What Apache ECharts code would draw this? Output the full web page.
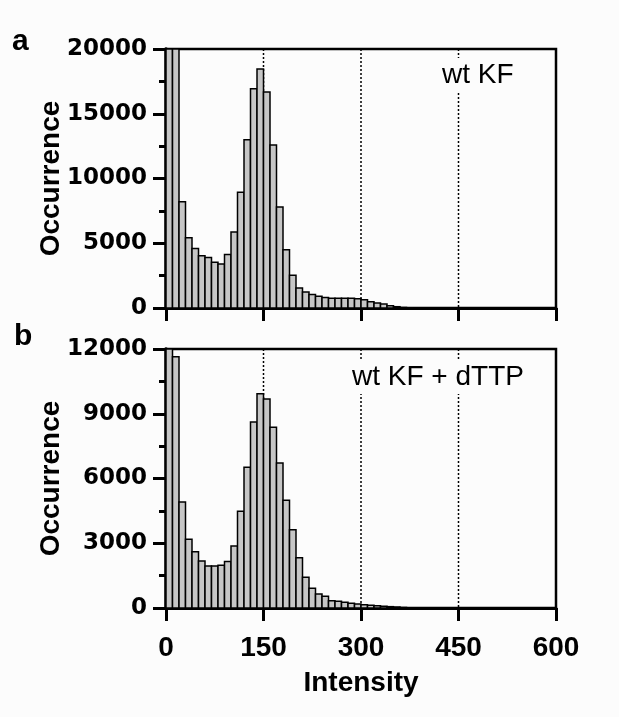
<!DOCTYPE html>
<html>
<head>
<meta charset="utf-8">
<script src="https://cdn.jsdelivr.net/npm/echarts@6/dist/echarts.min.js"></script>
<style>
html,body{margin:0;padding:0;background:#fcfcfc;}
#c{width:619px;height:717px;}
</style>
</head>
<body>
<div id="c"></div>
<script>
// ---- data ----
const binStarts = [0,10,20,30,40,50,60,70,80,90,100,110,120,130,140,150,160,170,180,190,200,210,220,230,240,250,260,270,280,290,300,310,320,330,340,350,360,370];
const binWidth = 10;
const wtKF = [26000,22000,8200,5430,4600,4040,3890,3530,3400,4140,5870,8930,13000,16940,18460,16680,12590,7800,4500,2520,1540,1240,1040,900,810,760,760,760,760,720,640,490,380,300,180,100,40,15];
const wtKFdTTP = [13500,11640,4910,3180,2610,2180,1950,1950,1980,2160,2870,4480,6520,8620,9930,9680,8380,6720,4990,3630,2330,1420,920,650,540,340,310,262,216,185,154,123,108,77,62,46,25,12];
const refLines = [150, 300, 450];
const xTicks = [0, 150, 300, 450, 600];
const yTopTicks = [0, 5000, 10000, 15000, 20000];
const yBotTicks = [0, 3000, 6000, 9000, 12000];
const panelLabels = ['a', 'b'];
const seriesNames = ['wt KF', 'wt KF + dTTP'];
const xTitle = 'Intensity';
const yTitle = 'Occurrence';

// ---- style ----
const BG = '#fcfcfc';
const BAR_FILL = '#c6c6c6';
const ARIAL = '"Liberation Sans", Arial, sans-serif';
const DEJA = '"DejaVu Sans", sans-serif';

function toBins(vals) {
  return vals.map((v, i) => [binStarts[i], binStarts[i] + binWidth, v]);
}

function barItem(params, api) {
  const cs = params.coordSys;
  const p0 = api.coord([api.value(0), api.value(2)]);
  const p1 = api.coord([api.value(1), 0]);
  const top = Math.max(p0[1], cs.y);
  return {
    type: 'rect',
    shape: { x: p0[0], y: top, width: p1[0] - p0[0], height: p1[1] - top },
    style: { fill: BAR_FILL, stroke: '#000', lineWidth: 1.5 }
  };
}

function refItem(params, api) {
  const cs = params.coordSys;
  const x = api.coord([api.value(0), 0])[0];
  return {
    type: 'line',
    shape: { x1: x, y1: cs.y, x2: x, y2: cs.y + cs.height },
    style: { stroke: '#000', lineWidth: 1.5, lineDash: [2, 2] }
  };
}

function xAxisCfg(idx, showLabels) {
  return {
    type: 'value', gridIndex: idx, min: xTicks[0], max: xTicks[xTicks.length - 1],
    interval: xTicks[1] - xTicks[0],
    axisLine: { show: true, onZero: false, lineStyle: { color: '#000', width: 3 } },
    axisTick: { show: true, inside: false, length: 13, lineStyle: { color: '#000', width: 3 } },
    splitLine: { show: false },
    axisLabel: {
      show: showLabels, margin: 26, color: '#000', fontFamily: ARIAL, fontWeight: 'bold',
      fontSize: 28, lineHeight: 28, showMinLabel: true, showMaxLabel: true, hideOverlap: false,
      formatter: v => String(v)
    },
    name: showLabels ? xTitle : '',
    nameLocation: 'middle', nameGap: 61, nameMoveOverlap: false,
    nameTextStyle: { color: '#000', fontFamily: ARIAL, fontWeight: 'bold', fontSize: 28, lineHeight: 28 }
  };
}

function yAxisCfg(idx, ticks) {
  return {
    type: 'value', gridIndex: idx, min: ticks[0], max: ticks[ticks.length - 1],
    interval: ticks[1] - ticks[0],
    axisLine: { show: true, onZero: false, lineStyle: { color: '#000', width: 3.5 } },
    axisTick: { show: true, inside: false, length: 13, lineStyle: { color: '#000', width: 3 } },
    minorTick: { show: true, splitNumber: 2, length: 7, lineStyle: { color: '#000', width: 3 } },
    splitLine: { show: false },
    minorSplitLine: { show: false },
    axisLabel: {
      margin: 19, color: '#000', fontFamily: DEJA, fontWeight: 'bold', fontSize: 23,
      showMinLabel: true, showMaxLabel: true, formatter: v => String(v)
    },
    name: yTitle, nameLocation: 'middle', nameGap: 101, nameRotate: 90, nameMoveOverlap: false,
    nameTextStyle: { color: '#000', fontFamily: ARIAL, fontWeight: 'bold', fontSize: 28, lineHeight: 28 }
  };
}

const chart = echarts.init(document.getElementById('c'), null, { renderer: 'canvas' });
chart.setOption({
  backgroundColor: BG,
  animation: false,
  grid: [
    { left: 166, right: 63, top: 49, height: 259, show: true, borderColor: '#000', borderWidth: 2.5, backgroundColor: BG, containLabel: false, outerBoundsMode: 'none' },
    { left: 166, right: 63, top: 349, height: 259, show: true, borderColor: '#000', borderWidth: 2.5, backgroundColor: BG, containLabel: false, outerBoundsMode: 'none' }
  ],
  xAxis: [xAxisCfg(0, false), xAxisCfg(1, true)],
  yAxis: [yAxisCfg(0, yTopTicks), yAxisCfg(1, yBotTicks)],
  series: [
    { type: 'custom', name: 'ref-a', xAxisIndex: 0, yAxisIndex: 0, z: 1, silent: true,
      data: refLines.map(v => [v, 0]), renderItem: refItem },
    { type: 'custom', name: 'ref-b', xAxisIndex: 1, yAxisIndex: 1, z: 1, silent: true,
      data: refLines.map(v => [v, 0]), renderItem: refItem },
    { type: 'custom', name: seriesNames[0], xAxisIndex: 0, yAxisIndex: 0, z: 2, clip: true,
      encode: { x: [0, 1], y: 2 }, data: toBins(wtKF), renderItem: barItem },
    { type: 'custom', name: seriesNames[1], xAxisIndex: 1, yAxisIndex: 1, z: 2, clip: true,
      encode: { x: [0, 1], y: 2 }, data: toBins(wtKFdTTP), renderItem: barItem }
  ],
  graphic: [
    { type: 'text', left: 12, top: 27, z: 100,
      style: { text: panelLabels[0], font: 'bold 30px ' + ARIAL, fill: '#000' } },
    { type: 'text', left: 14, top: 322, z: 100,
      style: { text: panelLabels[1], font: 'bold 30px ' + ARIAL, fill: '#000' } },
    { type: 'text', left: 438, top: 58, z: 100,
      style: { text: seriesNames[0], font: '28px ' + ARIAL, fill: '#000',
        backgroundColor: BG, padding: [3, 4, 3, 4] } },
    { type: 'text', left: 348, top: 360, z: 100,
      style: { text: seriesNames[1], font: '28px ' + ARIAL, fill: '#000',
        backgroundColor: BG, padding: [3, 4, 3, 4] } }
  ]
});
</script>
</body>
</html>
